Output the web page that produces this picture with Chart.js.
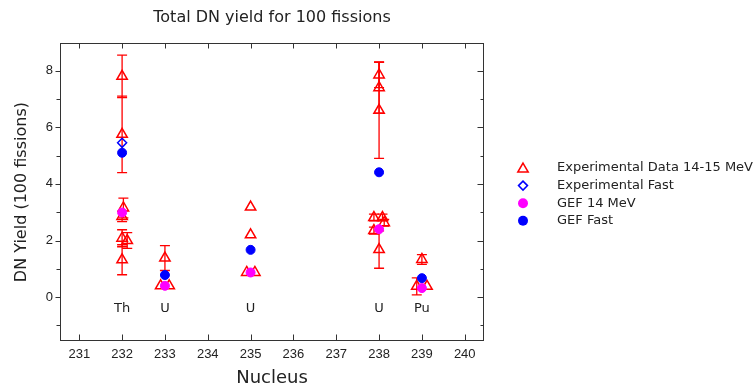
<!DOCTYPE html>
<html lang="en">
<head>
<meta charset="UTF-8">
<title>Total DN yield for 100 fissions</title>
<style>
  html, body { margin: 0; padding: 0; background: #fff; }
</style>
</head>
<body>
<canvas id="dn" width="754" height="392"></canvas>

<script src="https://cdn.jsdelivr.net/npm/chart.js@4.4.1/dist/chart.umd.min.js"></script>
<script>
// axis ticks
const xTicks = [231, 232, 233, 234, 235, 236, 237, 238, 239, 240];
const yTicks = [0, 2, 4, 6, 8];

// element names written under each nucleus
const nucleusMass = [232, 233, 235, 238, 239];
const nucleusName = ["Th", "U", "U", "U", "Pu"];

// Experimental Data 14-15 MeV (triangles) with +/- error
const exp14X   = [232, 232, 232.03, 232, 232, 232.12, 232,
                  233, 232.9, 233.1,
                  235, 235, 234.91, 235.1,
                  238, 238, 238, 237.88, 238.08, 238.12, 237.88, 238,
                  239, 238.88, 239.12];
const exp14Y   = [7.8, 5.75, 3.15, 2.85, 2.08, 2.0, 1.32,
                  1.38, 0.4, 0.4,
                  3.18, 2.2, 0.87, 0.87,
                  7.85, 7.4, 6.6, 2.81, 2.81, 2.63, 2.35, 1.68,
                  1.33, 0.38, 0.38];
const exp14Err = [0.75, 1.35, 0.35, 0.18, 0.3, 0.28, 0.53,
                  0.44, 0, 0,
                  0, 0, 0, 0,
                  0.45, 0.9, 1.7, 0.12, 0.12, 0.12, 0.12, 0.66,
                  0.17, 0.3, 0];

// Experimental Fast (diamond)
const expFastX = [232];
const expFastY = [5.45];

// GEF results, one value per nucleus in nucleusMass
const gef14Y   = [2.99, 0.40, 0.87, 2.40, 0.32];
const gefFastY = [5.10, 0.78, 1.67, 4.41, 0.67];

const legendItems = [
  { text: "Experimental Data 14-15 MeV", shape: "triangle", color: "#ff0000", fill: false },
  { text: "Experimental Fast",           shape: "diamond",  color: "#0000ff", fill: false },
  { text: "GEF 14 MeV",                  shape: "circle",   color: "#ff00ff", fill: true },
  { text: "GEF Fast",                    shape: "circle",   color: "#0000ff", fill: true },
];

const pts = (xs, ys) => xs.map((v, i) => ({ x: v, y: ys[i] }));

Chart.defaults.font.family = "'DejaVu Sans', sans-serif";
Chart.defaults.color = "#222";

function marker(ctx, shape, x, y, color, fill) {
  ctx.save();
  ctx.strokeStyle = color;
  ctx.fillStyle = color;
  ctx.lineWidth = 1.5;
  ctx.beginPath();
  if (shape === "triangle") {
    const r = 6;
    for (let k = 0; k < 3; k++) {
      const a = k * 2 * Math.PI / 3;
      const px = x + Math.sin(a) * r, py = y - Math.cos(a) * r;
      if (k === 0) ctx.moveTo(px, py); else ctx.lineTo(px, py);
    }
    ctx.closePath();
  } else if (shape === "diamond") {
    const r = 4.5;
    ctx.moveTo(x, y - r); ctx.lineTo(x + r, y); ctx.lineTo(x, y + r); ctx.lineTo(x - r, y);
    ctx.closePath();
  } else {
    ctx.arc(x, y, 5, 0, 2 * Math.PI);
  }
  if (fill) ctx.fill(); else ctx.stroke();
  ctx.restore();
}

const decor = {
  id: "decor",
  beforeDatasetsDraw(chart) {
    // error bars under the markers
    const { ctx, scales: { x, y } } = chart;
    ctx.save();
    ctx.strokeStyle = "#ff0000";
    ctx.lineWidth = 1.3;
    exp14X.forEach((v, i) => {
      const e = exp14Err[i];
      if (!e) return;
      const px = x.getPixelForValue(v);
      const t = y.getPixelForValue(exp14Y[i] + e);
      const b = y.getPixelForValue(exp14Y[i] - e);
      ctx.beginPath();
      ctx.moveTo(px, t); ctx.lineTo(px, b);
      ctx.moveTo(px - 5, t); ctx.lineTo(px + 5, t);
      ctx.moveTo(px - 5, b); ctx.lineTo(px + 5, b);
      ctx.stroke();
    });
    ctx.restore();
  },
  afterDraw(chart) {
    const { ctx, chartArea: a, scales: { x, y } } = chart;
    ctx.save();
    // frame
    ctx.strokeStyle = "#333";
    ctx.lineWidth = 1;
    const L = Math.round(a.left) + 0.5, R = Math.round(a.right) - 0.5;
    const T = Math.round(a.top) + 0.5, B = Math.round(a.bottom) - 0.5;
    ctx.strokeRect(L, T, R - L, B - T);
    ctx.beginPath();
    for (let v = -1; v <= 8; v++) {
      const py = Math.round(y.getPixelForValue(v)) + 0.5;
      const major = v % 2 === 0;
      ctx.moveTo(L - (major ? 5 : 4), py); ctx.lineTo(L, py);
      ctx.moveTo(R - (major ? 6 : 3), py); ctx.lineTo(R, py);
    }
    xTicks.forEach(v => {
      const px = Math.round(x.getPixelForValue(v)) + 0.5;
      ctx.moveTo(px, B); ctx.lineTo(px, B - 6);
      ctx.moveTo(px, T); ctx.lineTo(px, T + 5);
    });
    ctx.stroke();

    // element names
    ctx.fillStyle = "#222";
    ctx.font = "13px 'DejaVu Sans', sans-serif";
    ctx.textAlign = "center";
    ctx.textBaseline = "middle";
    nucleusMass.forEach((m, i) => {
      ctx.fillText(nucleusName[i], x.getPixelForValue(m), y.getPixelForValue(-0.4));
    });

    // legend
    ctx.textAlign = "left";
    ctx.font = "13px 'DejaVu Sans', sans-serif";
    legendItems.forEach((it, i) => {
      const ly = 168 + i * 17.6;
      marker(ctx, it.shape, 523, it.shape === "triangle" ? ly + 1 : ly, it.color, it.fill);
      ctx.fillStyle = "#222";
      ctx.fillText(it.text, 557, ly);
    });
    ctx.restore();
  }
};

new Chart(document.getElementById("dn"), {
  type: "scatter",
  data: {
    datasets: [
      {
        label: "GEF 14 MeV",
        data: pts(nucleusMass, gef14Y),
        pointStyle: "circle", pointRadius: 4.5, borderWidth: 1,
        borderColor: "#ff00ff", backgroundColor: "#ff00ff", order: 0,
      },
      {
        label: "GEF Fast",
        data: pts(nucleusMass, gefFastY),
        pointStyle: "circle", pointRadius: 4.5, borderWidth: 1,
        borderColor: "#0000ff", backgroundColor: "#0000ff", order: 1,
      },
      {
        label: "Experimental Fast",
        data: pts(expFastX, expFastY),
        pointStyle: "rectRot", pointRadius: 4.5, borderWidth: 1.5,
        borderColor: "#0000ff", backgroundColor: "rgba(0,0,0,0)", order: 2,
      },
      {
        label: "Experimental Data 14-15 MeV",
        data: pts(exp14X, exp14Y),
        pointStyle: "triangle", pointRadius: 6, borderWidth: 1.5,
        borderColor: "#ff0000", backgroundColor: "rgba(0,0,0,0)", order: 3,
      },
    ],
  },
  options: {
    responsive: false,
    animation: false,
    layout: { padding: { right: 270, left: 0, top: 0, bottom: 0 } },
    plugins: {
      legend: { display: false },
      tooltip: { enabled: false },
      title: {
        display: true,
        fullSize: false,
        text: "Total DN yield for 100 fissions",
        color: "#222",
        font: { size: 16, weight: "normal" },
        padding: { top: 8, bottom: 16 },
      },
    },
    scales: {
      x: {
        type: "linear",
        min: 230.55,
        max: 240.45,
        afterBuildTicks: s => { s.ticks = xTicks.map(v => ({ value: v })); },
        afterFit: s => { s.height = 51; },
        grid: { display: false, drawTicks: false },
        border: { display: false },
        ticks: { padding: 6, color: "#222", font: { family: "'Liberation Sans', sans-serif", size: 13 }, callback: v => String(v) },
        title: {
          display: true, text: "Nucleus", color: "#222",
          font: { size: 18 }, padding: { top: 3, bottom: 3 },
        },
      },
      y: {
        min: -1.55,
        max: 8.97,
        afterBuildTicks: s => { s.ticks = yTicks.map(v => ({ value: v })); },
        afterFit: s => { s.width = 60; },
        grid: { display: false, drawTicks: false },
        border: { display: false },
        ticks: { padding: 7, color: "#222", font: { family: "'Liberation Sans', sans-serif", size: 13 }, callback: v => String(v) },
        title: {
          display: true, text: "DN Yield (100 fissions)", color: "#222",
          font: { size: 16 }, padding: { top: 12, bottom: 12 },
        },
      },
    },
  },
  plugins: [decor],
});
</script>
</body>
</html>
